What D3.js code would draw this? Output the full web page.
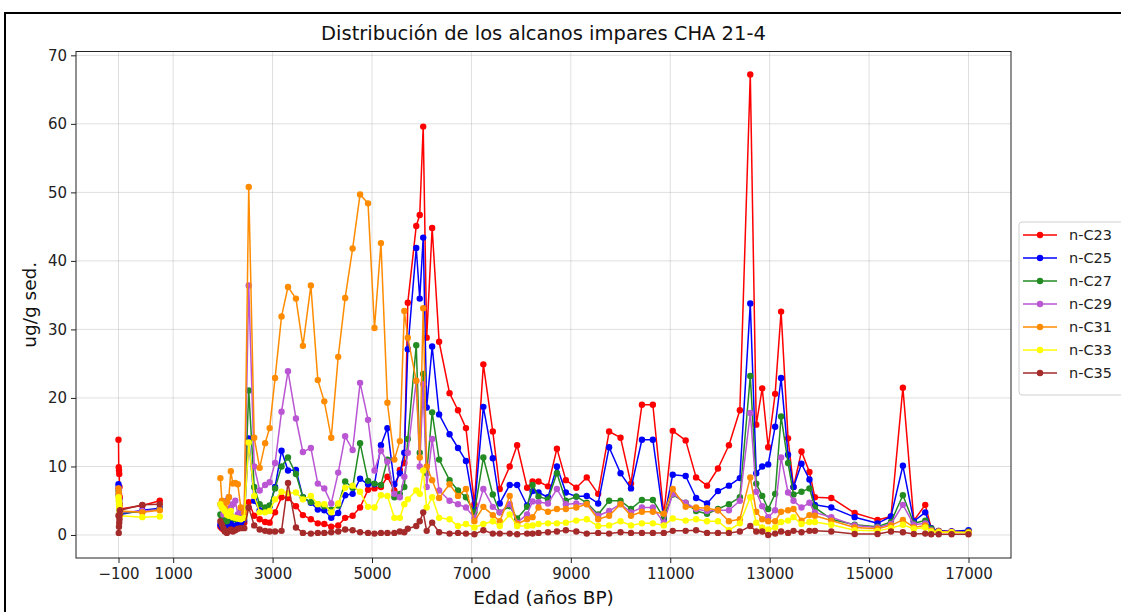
<!DOCTYPE html>
<html>
<head>
<meta charset="utf-8">
<script src="https://cdn.jsdelivr.net/npm/d3@7"></script>
<style>
  body { margin: 0; background: #fff; }
  svg { display: block; font-family: "DejaVu Sans", sans-serif; }
</style>
</head>
<body>
<svg id="chart" width="1121" height="612"></svg>
<script>
// sample ages (años BP), shared by every series; 1300 has no sample (gap in the record)
var ages = [-100, -95, -90, -85, -80, -75, -70,
  380, 730,
  1300,
  1950, 1980, 2010, 2040, 2080, 2120, 2160, 2200, 2250, 2300, 2360, 2430,
  2520,
  2630, 2740, 2850, 2940, 3050, 3180, 3310, 3470, 3610, 3770, 3910, 4040, 4180, 4320, 4460, 4610, 4760, 4920, 5050, 5180, 5310, 5450, 5560,
  5650, 5720, 5890, 5960, 6030, 6100, 6210, 6350, 6560, 6730, 6890, 7060, 7240,
  7430, 7570, 7770, 7920, 8120, 8230, 8350, 8540, 8720, 8900, 9110, 9320, 9550, 9770, 10000,
  10210, 10430, 10650, 10870, 11050, 11310, 11520, 11740, 11960, 12180, 12400, 12610, 12730, 12850, 12970, 13110, 13230,
  13370, 13480, 13640, 13800, 13910, 14240, 14710, 15170, 15440, 15680, 15900, 16130, 16250, 16400, 16660, 17000];

var nC23 = [13.9, 9.9, 9.4, 8.9, 7.0, 5.5, 3.8,
  4.3, 5.0,
  null,
  1.2, 1.0, 0.8, 0.7, 0.9, 1.2, 1.5, 1.0, 1.2, 1.5, 1.6, 1.8,
  4.8,
  2.8, 2.3, 1.9, 1.8, 3.3, 5.5, 5.4, 4.2, 2.9, 2.3, 1.7, 1.6, 1.2, 1.4, 2.5, 2.8, 4.0, 6.6, 6.8, 7.0, 8.5, 6.5, 9.5,
  10.5, 33.9, 45.1, 46.7, 59.6, 28.8, 44.8, 28.2, 20.7, 18.2, 15.6, 4.5, 24.9,
  15.1, 6.7, 10.0, 13.1, 6.9, 7.8, 7.8, 7.1, 12.6, 8.0, 6.9, 8.4, 6.0, 15.1, 14.2,
  7.5, 19.0, 19.0, 3.0, 15.2, 13.8, 8.4, 7.2, 9.7, 13.1, 18.2, 67.2, 16.1, 21.4, 12.8, 20.6, 32.6,
  14.1, 7.0, 12.2, 9.2, 5.5, 5.4, 3.2, 2.2, 2.7, 21.5, 2.1, 4.4, 1.0, 0.6, 0.5, 0.6];

var nC25 = [7.4, 7.0, 6.0, 5.2, 4.5, 3.6, 3.0,
  3.6, 3.9,
  null,
  1.5, 1.2, 1.0, 0.8, 1.2, 1.5, 1.8, 1.2, 1.3, 1.8, 1.7, 2.2,
  14.1,
  5.0, 3.6, 3.8, 4.2, 7.0, 12.3, 9.4, 9.5, 5.5, 4.7, 3.7, 3.6, 2.5, 3.2, 5.8, 6.0, 8.2, 7.4, 7.4, 13.1, 15.6, 7.4, 9.0,
  12.0, 27.1, 41.9, 34.5, 43.4, 18.6, 27.5, 17.6, 14.7, 12.7, 10.8, 3.7, 18.7,
  11.2, 4.6, 7.3, 7.3, 4.3, 6.4, 6.2, 5.5, 10.0, 6.2, 5.6, 5.7, 4.6, 12.8, 9.0,
  6.8, 13.9, 13.9, 2.3, 8.8, 8.6, 5.4, 4.6, 6.4, 7.2, 8.3, 33.8, 9.0, 10.0, 10.3, 15.8, 22.9,
  11.7, 7.0, 10.4, 8.1, 4.4, 4.0, 2.6, 1.7, 2.7, 10.1, 2.0, 3.3, 1.0, 0.6, 0.5, 0.7];

var nC27 = [6.5, 5.8, 5.0, 4.5, 4.0, 3.5, 3.2,
  3.4, 3.8,
  null,
  3.0, 2.5, 2.2, 2.0, 2.0, 2.5, 2.8, 2.5, 2.3, 2.5, 2.7, 3.0,
  21.1,
  7.0, 4.5, 4.0, 4.3, 6.8, 10.0, 11.3, 8.9, 5.5, 4.8, 4.5, 4.2, 3.7, 4.3, 7.8, 6.9, 13.4, 7.9, 7.5, 7.3, 11.0, 5.5, 6.0,
  7.0, 14.0, 27.7, 12.0, 23.5, 9.0, 17.9, 11.0, 8.0, 6.5, 5.5, 3.3, 11.3,
  5.9, 3.3, 4.2, 2.4, 4.1, 7.3, 5.6, 5.2, 9.0, 5.0, 5.6, 4.7, 3.0, 5.0, 5.0,
  3.8, 5.1, 5.1, 2.5, 5.9, 4.7, 3.5, 3.1, 3.8, 4.5, 5.5, 23.2, 7.5, 5.7, 3.8, 6.0, 17.3,
  10.5, 5.9, 6.3, 6.8, 4.0, 2.3, 1.5, 1.2, 1.9, 5.8, 1.7, 2.1, 0.9, 0.5, 0.4, 0.5];

var nC29 = [6.8, 6.0, 5.5, 4.8, 4.2, 3.8, 3.3,
  3.5, 3.7,
  null,
  4.5, 4.0, 3.0, 3.5, 5.0, 5.5, 4.0, 4.5, 5.0, 3.0, 3.5, 3.0,
  36.4,
  10.0, 6.5, 7.3, 7.7, 10.5, 18.0, 23.9, 17.0, 12.1, 12.7, 7.5, 6.8, 4.6, 9.1, 14.4, 12.4, 22.2, 16.8, 9.4, 12.3, 10.7, 6.0, 5.5,
  8.5, 12.0, 22.5, 10.0, 22.0, 7.0, 14.0, 6.5, 5.0, 4.5, 4.0, 2.5, 6.7,
  4.1, 3.3, 4.5, 1.8, 3.0, 4.9, 4.8, 4.6, 6.7, 4.5, 4.6, 4.5, 2.8, 3.5, 4.5,
  3.3, 4.0, 4.0, 1.8, 6.0, 4.7, 3.8, 3.5, 3.6, 3.6, 5.0, 17.8, 6.3, 4.2, 2.6, 3.6, 11.3,
  6.2, 5.0, 4.0, 4.7, 3.3, 2.6, 1.4, 1.1, 1.6, 4.4, 1.5, 1.7, 0.7, 0.5, 0.4, 0.4];

var nC31 = [6.8, 6.2, 5.8, 5.0, 4.5, 4.0, 3.5,
  3.3, 3.6,
  null,
  8.3, 5.0, 4.5, 4.0, 4.8, 5.5, 9.3, 7.5, 7.6, 7.4, 4.0, 3.2,
  50.8,
  14.2, 9.8, 13.4, 15.6, 22.9, 31.9, 36.2, 34.5, 27.6, 36.4, 22.6, 19.5, 14.2, 26.0, 34.6, 41.8, 49.7, 48.4, 30.2, 42.6, 19.3, 11.0, 13.7,
  32.7, 28.8, 22.5, 11.3, 33.1, 10.0, 8.0, 5.4, 7.4, 5.7, 6.7, 2.0, 4.1,
  2.9, 2.0, 5.7, 1.6, 2.3, 2.6, 4.0, 3.4, 3.8, 3.8, 4.0, 4.5, 2.3, 2.8, 4.5,
  2.8, 3.4, 3.4, 3.1, 6.7, 4.1, 4.0, 3.9, 3.6, 2.0, 2.3, 8.4, 3.4, 2.3, 2.0, 2.0, 3.4,
  3.6, 3.8, 2.1, 2.9, 2.8, 2.1, 1.1, 0.9, 1.4, 2.2, 1.1, 1.4, 0.6, 0.5, 0.4, 0.4];

var nC33 = [5.5, 5.0, 4.5, 4.0, 3.5, 3.0, 2.8,
  2.6, 2.7,
  null,
  4.5, 4.0, 3.8, 3.5, 3.0, 2.8, 3.5, 2.6, 2.5, 2.4, 2.3, 2.5,
  13.5,
  5.7, 3.3, 3.3, 3.5, 5.2, 6.3, 6.1, 6.2, 5.2, 5.7, 4.5, 4.5, 3.3, 4.6, 6.9, 7.2, 6.3, 4.1, 4.0, 5.8, 5.7, 2.5, 2.5,
  4.5, 5.2, 6.5, 6.0, 9.4, 4.0, 5.5, 2.5, 2.3, 1.3, 1.6, 1.1, 1.6,
  2.0, 1.3, 3.0, 1.3, 1.3, 1.4, 1.6, 1.7, 1.7, 1.8, 2.1, 2.3, 1.3, 1.4, 2.0,
  1.4, 1.7, 1.7, 1.4, 2.4, 2.1, 2.3, 2.0, 2.0, 0.7, 1.7, 5.5, 1.8, 1.1, 0.8, 1.1, 1.9,
  2.1, 2.6, 1.6, 1.9, 1.9, 1.5, 0.7, 0.6, 1.0, 1.5, 0.9, 1.1, 0.5, 0.4, 0.4, 0.3];

var nC35 = [2.8, 0.3, 1.2, 1.8, 2.3, 3.0, 3.6,
  4.4, 4.5,
  null,
  2.0, 1.5, 1.0, 0.5, 0.3, 0.6, 0.8, 0.5, 0.7, 0.9, 1.0, 1.0,
  4.0,
  1.4, 0.8, 0.6, 0.5, 0.5, 0.6, 7.6, 1.1, 0.3, 0.2, 0.3, 0.3, 0.4, 0.5, 0.8, 0.7, 0.4, 0.3, 0.2, 0.3, 0.3, 0.3, 0.5,
  0.4, 0.9, 1.3, 2.0, 3.3, 0.6, 1.8, 0.4, 0.2, 0.3, 0.2, 0.1, 0.7,
  0.2, 0.2, 0.2, 0.1, 0.2, 0.2, 0.3, 0.4, 0.5, 0.7, 0.5, 0.2, 0.3, 0.2, 0.4,
  0.3, 0.3, 0.3, 0.3, 0.6, 0.6, 0.7, 0.3, 0.3, 0.3, 0.5, 1.3, 0.5, 0.5, 0.0, 0.2, 0.5,
  0.3, 0.6, 0.4, 0.6, 0.6, 0.5, 0.15, 0.15, 0.5, 0.4, 0.15, 0.2, 0.1, 0.1, 0.1, 0.1];

var seriesNames = ["n-C23", "n-C25", "n-C27", "n-C29", "n-C31", "n-C33", "n-C35"];
var seriesValues = [nC23, nC25, nC27, nC29, nC31, nC33, nC35];
var seriesColors = ["#ff0000", "#0000ff", "#228b22", "#ba55d3", "#ff8c00", "#ffff00", "#a52a2a"];

var xTicks = [-100, 1000, 3000, 5000, 7000, 9000, 11000, 13000, 15000, 17000];
var yTicks = [0, 10, 20, 30, 40, 50, 60, 70];

var svg = d3.select("#chart");
var margin = {left: 76, right: 110, top: 51.5, bottom: 54};
var W = 1121, H = 612;
var plotW = W - margin.left - margin.right;   // right edge at 1011
var plotH = H - margin.top - margin.bottom;   // bottom edge at 558

// outer frame (only the top and left edges fall inside the picture)
svg.append("rect").attr("x", 5).attr("y", 13).attr("width", 1300).attr("height", 800)
  .attr("fill", "none").attr("stroke", "#000").attr("stroke-width", 2);

// matplotlib-like 5% margins
var allVals = d3.merge(seriesValues).filter(v => v != null);
var xmin = d3.min(ages), xmax = d3.max(ages);
var ymin = d3.min(allVals), ymax = d3.max(allVals);
var xpad = (xmax - xmin) * 0.05, ypad = (ymax - ymin) * 0.05;

var x = d3.scaleLinear().domain([xmin - xpad, xmax + xpad]).range([0, plotW]);
var y = d3.scaleLinear().domain([ymin - ypad, ymax + ypad]).range([plotH, 0]);

var plot = svg.append("g").attr("transform", "translate(" + margin.left + "," + margin.top + ")");

// grid
plot.append("g").selectAll("line").data(xTicks).enter().append("line")
  .attr("x1", d => x(d)).attr("x2", d => x(d)).attr("y1", 0).attr("y2", plotH)
  .attr("stroke", "#b0b0b0").attr("stroke-opacity", 0.5).attr("stroke-width", 0.8);
plot.append("g").selectAll("line").data(yTicks).enter().append("line")
  .attr("x1", 0).attr("x2", plotW).attr("y1", d => y(d)).attr("y2", d => y(d))
  .attr("stroke", "#b0b0b0").attr("stroke-opacity", 0.5).attr("stroke-width", 0.8);

// series
var line = d3.line().defined(d => d != null).x((d, i) => x(ages[i])).y(d => y(d));
seriesValues.forEach(function(vals, k) {
  var g = plot.append("g");
  g.append("path").datum(vals).attr("d", line)
    .attr("fill", "none").attr("stroke", seriesColors[k]).attr("stroke-width", 1.5)
    .attr("stroke-linejoin", "round");
  var pts = vals.map((v, i) => ({age: ages[i], v: v})).filter(p => p.v != null);
  g.selectAll("circle").data(pts).enter().append("circle")
    .attr("cx", p => x(p.age)).attr("cy", p => y(p.v)).attr("r", 3.2)
    .attr("fill", seriesColors[k]);
});

// axes
var xAxis = d3.axisBottom(x).tickValues(xTicks).tickSize(5).tickPadding(5)
  .tickFormat(d => d < 0 ? "\u2212" + Math.abs(d) : String(d));
var yAxis = d3.axisLeft(y).tickValues(yTicks).tickSize(5).tickPadding(4);

var gx = plot.append("g").attr("transform", "translate(0," + plotH + ")").call(xAxis);
var gy = plot.append("g").call(yAxis);
[gx, gy].forEach(function(g) {
  g.select(".domain").remove();
  g.selectAll("text").attr("font-size", 15).attr("fill", "#222").attr("font-family", "DejaVu Sans, sans-serif");
  g.selectAll("line").attr("stroke", "#222");
});

plot.append("rect").attr("width", plotW).attr("height", plotH)
  .attr("fill", "none").attr("stroke", "#222").attr("stroke-width", 1);

// title and labels
svg.append("text").attr("x", margin.left + plotW / 2).attr("y", 40)
  .attr("text-anchor", "middle").attr("font-size", 19.5).attr("fill", "#111")
  .text("Distribución de los alcanos impares CHA 21-4");
svg.append("text").attr("x", margin.left + plotW / 2).attr("y", 604)
  .attr("text-anchor", "middle").attr("font-size", 18.5).attr("fill", "#111")
  .text("Edad (años BP)");
svg.append("text").attr("transform", "translate(36," + (margin.top + plotH / 2) + ") rotate(-90)")
  .attr("text-anchor", "middle").attr("font-size", 18.5).attr("fill", "#111")
  .text("ug/g sed.");

// legend
var lg = svg.append("g").attr("transform", "translate(1019,222)");
lg.append("rect").attr("width", 120).attr("height", 173).attr("rx", 3)
  .attr("fill", "#fff").attr("stroke", "#d0d0d0").attr("stroke-width", 1);
seriesNames.forEach(function(name, k) {
  var yy = 13 + k * 23;
  lg.append("line").attr("x1", 4).attr("x2", 38).attr("y1", yy).attr("y2", yy)
    .attr("stroke", seriesColors[k]).attr("stroke-width", 1.5);
  lg.append("circle").attr("cx", 21).attr("cy", yy).attr("r", 3.2).attr("fill", seriesColors[k]);
  lg.append("text").attr("x", 50).attr("y", yy + 5).attr("font-size", 14.5).attr("fill", "#222").text(name);
});
</script>
</body>
</html>
